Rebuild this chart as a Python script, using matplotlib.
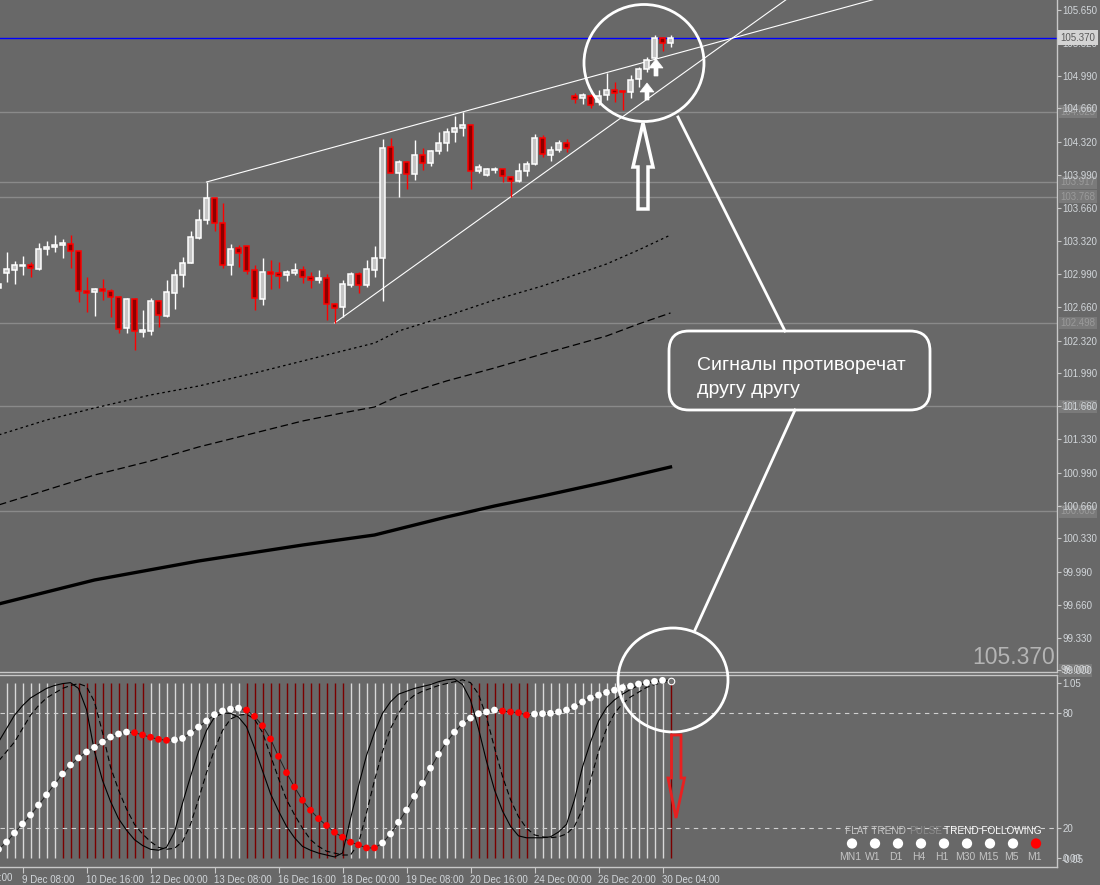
import numpy as np
import matplotlib
matplotlib.use('Agg')
import matplotlib.pyplot as plt
from matplotlib.patches import Ellipse, FancyBboxPatch, Polygon
import matplotlib.transforms as mtransforms

plt.rcParams['font.family'] = ['Liberation Sans', 'DejaVu Sans']

BG = '#686868'
AXIS_COL = '#c8c8c8'
LABEL_COL = '#d2d6da'

# ---- price data (H4 bars) ----
opens = [102.850, 103.001, 103.032, 103.072, 103.082, 103.042, 103.243, 103.263, 103.283, 103.294,
         103.223, 102.820, 102.810, 102.840, 102.820, 102.760, 102.448, 102.740, 102.407, 102.417,
         102.720, 102.569, 102.800, 102.981, 103.102, 103.354, 103.535, 103.757, 103.505, 103.082,
         103.253, 103.273, 103.032, 102.740, 103.012, 103.001, 102.981, 103.001, 103.032, 102.961,
         102.931, 102.951, 102.689, 102.659, 102.881, 102.991, 102.881, 103.032, 103.153, 104.270,
         104.009, 104.119, 103.998, 104.190, 104.109, 104.230, 104.311, 104.421, 104.462, 104.492,
         104.029, 103.988, 104.039, 104.049, 103.968, 103.928, 104.029, 104.099, 104.361, 104.190,
         104.240, 104.311, 104.784, 104.764, 104.784, 104.724, 104.794, 104.844, 104.834, 104.824,
         104.955, 105.056, 105.167, 105.368, 105.318]
highs = [102.921, 103.213, 103.122, 103.173, 103.112, 103.304, 103.324, 103.384, 103.344, 103.384,
         103.223, 102.961, 102.850, 102.941, 102.840, 102.770, 102.750, 102.750, 102.629, 102.750,
         102.730, 102.931, 103.042, 103.163, 103.424, 103.646, 103.918, 103.757, 103.706, 103.294,
         103.283, 103.273, 103.082, 103.153, 103.132, 103.112, 103.032, 103.102, 103.072, 103.012,
         103.032, 102.991, 102.699, 102.931, 103.012, 103.012, 103.132, 103.273, 104.351, 104.361,
         104.139, 104.129, 104.341, 104.260, 104.240, 104.421, 104.462, 104.583, 104.623, 104.492,
         104.099, 104.059, 104.069, 104.049, 103.978, 104.109, 104.129, 104.401, 104.391, 104.280,
         104.341, 104.351, 104.814, 104.814, 104.804, 104.844, 105.016, 104.925, 104.834, 104.995,
         105.076, 105.177, 105.398, 105.378, 105.398]
lows = [102.820, 102.911, 102.891, 102.981, 102.961, 103.032, 103.183, 103.213, 103.153, 103.052,
        102.709, 102.609, 102.569, 102.730, 102.559, 102.397, 102.397, 102.226, 102.357, 102.377,
        102.458, 102.559, 102.639, 102.860, 103.102, 103.344, 103.495, 103.424, 103.052, 102.981,
        103.062, 102.991, 102.629, 102.679, 102.840, 102.850, 102.921, 102.981, 102.901, 102.850,
        102.901, 102.528, 102.498, 102.559, 102.860, 102.800, 102.860, 102.961, 102.720, 104.009,
        103.767, 103.847, 103.938, 104.039, 104.079, 104.200, 104.230, 104.321, 104.381, 103.847,
        104.009, 103.978, 104.009, 103.918, 103.767, 103.918, 103.978, 104.089, 104.170, 104.129,
        104.220, 104.220, 104.713, 104.703, 104.663, 104.693, 104.744, 104.724, 104.643, 104.764,
        104.875, 105.026, 105.157, 105.237, 105.277]
closes = [102.891, 103.042, 103.082, 103.082, 103.052, 103.243, 103.263, 103.283, 103.304, 103.223,
          102.820, 102.800, 102.840, 102.820, 102.760, 102.438, 102.740, 102.417, 102.428, 102.720,
          102.579, 102.810, 102.981, 103.102, 103.364, 103.535, 103.757, 103.505, 103.082, 103.243,
          103.203, 103.022, 102.750, 103.012, 102.991, 102.971, 103.012, 103.032, 102.961, 102.931,
          102.951, 102.689, 102.649, 102.891, 102.991, 102.881, 103.042, 103.153, 104.260, 104.009,
          104.119, 103.998, 104.190, 104.109, 104.230, 104.311, 104.421, 104.462, 104.492, 104.029,
          104.069, 104.049, 104.049, 103.978, 103.928, 104.029, 104.099, 104.361, 104.200, 104.240,
          104.311, 104.260, 104.754, 104.794, 104.693, 104.784, 104.844, 104.814, 104.824, 104.945,
          105.056, 105.146, 105.368, 105.318, 105.370]

# moving averages, sampled at bar indices
ma_bars_a = [0, 6, 12, 19, 25, 32, 38, 43, 47, 50, 56, 62, 68, 72, 76, 80, 84]
ma_dotted = [101.370, 101.521, 101.642, 101.773, 101.863, 101.994, 102.115, 102.216, 102.296,
             102.417, 102.568, 102.730, 102.871, 102.981, 103.092, 103.233, 103.384]
ma_dashed = [100.665, 100.816, 100.967, 101.108, 101.249, 101.390, 101.511, 101.592, 101.652,
             101.763, 101.914, 102.045, 102.186, 102.276, 102.367, 102.488, 102.599]
ma_bars_b = [0, 12, 25, 38, 47, 56, 62, 68, 76, 84]
ma_slow = [99.668, 99.910, 100.101, 100.262, 100.363, 100.544, 100.655, 100.756, 100.897, 101.048]

levels = [104.625, 103.917, 103.768, 102.498, 101.660, 100.603]
last_price = 105.370
trend_upper = [(26, 103.918), (58, 104.623)]
trend_lower = [(42, 102.498), (64, 103.767)]

price_ticks = [105.650, 105.320, 104.990, 104.660, 104.320, 103.990, 103.660, 103.320, 102.990,
               102.660, 102.320, 101.990, 101.660, 101.330, 100.990, 100.660, 100.330, 99.990,
               99.660, 99.330, 99.000]

# ---- oscillator data ----
stoch_main = [65, 72, 79, 84, 88, 90.5, 93, 94.5, 95.5, 96, 93, 82, 60, 45, 34, 25, 19, 14, 11, 9,
              8.5, 10, 18, 33, 47, 60, 71, 78, 80, 80, 78, 73, 62, 50, 38, 29, 21, 15, 10.5, 8.5,
              7, 6, 5, 7, 25, 42, 58, 70, 80, 86, 90, 91.5, 93, 94, 95, 96.5, 97.5, 97.9, 95, 87,
              72, 55, 40, 29, 21, 16, 15, 15, 15, 15.5, 18, 22, 35, 52, 65, 76, 83, 87, 90, 92.5,
              94.5, 95.7, 96.5, 97, 97.4]
stoch_signal = [55, 60, 65, 72, 79, 84, 88, 90.5, 93, 94.5, 95.5, 94, 86, 70, 52, 40, 30, 22, 17, 13,
                10, 9, 9.5, 13, 22, 35, 49, 61, 71, 77, 79, 79.5, 77, 70, 58, 46, 35, 27, 20, 14,
                10.5, 8, 7, 6, 6, 12, 28, 45, 60, 72, 80, 86, 89.5, 91.5, 93, 94.5, 95.5, 96.5, 97.5,
                96, 90, 78, 62, 47, 35, 26, 20, 16.5, 15.5, 15, 15.5, 17, 21, 30, 45, 60, 72, 80, 85,
                88.5, 91, 93.5, 95, 96, 96.8]
dots = [9.0, 12.8, 17.5, 22.2, 26.9, 32.1, 37.4, 42.9, 48.3, 53.0, 56.7, 59.8, 62.2, 65.0, 67.6,
        69.2, 70.2, 69.9, 68.7, 67.5, 66.4, 65.9, 66.1, 66.9, 69.7, 72.8, 76.0, 79.3, 81.2, 82.2,
        82.7, 81.7, 78.4, 73.5, 66.6, 57.5, 49.0, 41.5, 34.6, 29.4, 25.0, 21.4, 17.9, 15.3, 12.7,
        11.3, 9.7, 9.7, 12.3, 17.0, 23.1, 29.5, 36.7, 43.5, 51.4, 58.6, 65.0, 70.2, 74.6, 77.5,
        79.8, 80.7, 81.7, 81.2, 80.7, 80.3, 79.1, 79.6, 79.8, 80.0, 80.7, 81.7, 83.5, 85.9, 88.0,
        89.5, 90.9, 92.1, 93.4, 94.2, 95.3, 96.0, 96.7, 97.2, 97.0]
red_dot_ranges = [(17, 21), (31, 47), (63, 66)]
red_hist_ranges = [(8, 18), (31, 43), (59, 66), (84, 84)]

time_tick_bars = [-5, 3, 11, 19, 27, 35, 43, 51, 59, 67, 75, 83]
time_labels = ['6 Dec 00:00', '9 Dec 08:00', '10 Dec 16:00', '12 Dec 00:00', '13 Dec 08:00',
               '16 Dec 16:00', '18 Dec 00:00', '19 Dec 08:00', '20 Dec 16:00', '24 Dec 00:00',
               '26 Dec 20:00', '30 Dec 04:00']

tf_labels = ['MN1', 'W1', 'D1', 'H4', 'H1', 'M30', 'M15', 'M5', 'M1']
tf_colors = ['white'] * 8 + ['#ff0000']


def in_ranges(i, ranges):
    return any(a <= i <= b for a, b in ranges)


W, H = 1100, 885
fig = plt.figure(figsize=(W / 100, H / 100), dpi=100)
fig.patch.set_facecolor(BG)

XLIM = (1.5 / 8, (1057 + 1.5) / 8)
ax = fig.add_axes([0, (H - 672) / H, 1057 / W, 672 / H])
ax2 = fig.add_axes([0, 18.5 / H, 1057 / W, 191.5 / H])

for a in (ax, ax2):
    a.set_facecolor(BG)
    a.set_xlim(*XLIM)
    for s in a.spines.values():
        s.set_color(AXIS_COL)
        s.set_linewidth(1)
    a.spines['left'].set_visible(False)

ax.set_ylim(105.65 - 662 / 99.3, 105.65 + 10 / 99.3)
ax.spines['top'].set_visible(False)
ax.set_xticks([])

# ---- top panel ----
o = np.array(opens); h = np.array(highs); l = np.array(lows); c = np.array(closes)
x = np.arange(len(o))
up = c >= o
for lv in levels:
    ax.axhline(lv, color='#8a8a8a', lw=1, zorder=1)
ax.axhline(last_price, color='#0000ff', lw=1, zorder=1)

ax.plot(ma_bars_a, ma_dotted, color='black', lw=0.9, ls=(0, (2, 2.5)), zorder=2)
ax.plot(ma_bars_a, ma_dashed, color='black', lw=0.9, ls=(0, (6, 3)), zorder=2)
ax.plot(ma_bars_b, ma_slow, color='black', lw=2.4, zorder=2)

for (b0, p0), (b1, p1) in (trend_upper, trend_lower):
    slope = (p1 - p0) / (b1 - b0)
    ax.plot([b0, 130], [p0, p0 + slope * (130 - b0)], color='white', lw=0.8, zorder=2)

ax.vlines(x[up], l[up], h[up], color='white', lw=1, zorder=3)
ax.vlines(x[~up], l[~up], h[~up], color='#ff0000', lw=1, zorder=3)
body_lo = np.minimum(o, c)
body_h = np.maximum(np.abs(c - o), 0.014)
ax.bar(x[up], body_h[up], 0.52, body_lo[up], color='#c4c4c4', edgecolor='white', lw=1.1, zorder=4)
ax.bar(x[~up], body_h[~up], 0.52, body_lo[~up], color='#8b0000', edgecolor='#ff0000', lw=1.1, zorder=4)

ax.yaxis.tick_right()
ax.set_yticks(price_ticks)
ax.set_yticklabels([f'{t:.3f}' for t in price_ticks])
ax.tick_params(axis='y', colors=AXIS_COL, labelcolor=LABEL_COL, length=3, pad=1, labelsize=7)
ax.yaxis.set_zorder(3)

ytr = mtransforms.blended_transform_factory(ax.transAxes, ax.transData)
for lv in levels:
    ax.text(1.0035, lv, f'{lv:.3f}', transform=ytr, va='center', ha='left', fontsize=7,
            color='#9a9a9a', clip_on=False, zorder=2,
            bbox=dict(boxstyle='square,pad=0.15', fc='#7a7a7a', ec='none'))
ax.text(1.0035, 99.0, '99.000', transform=ytr, va='center', ha='left', fontsize=7,
        color='#d0d0d0', clip_on=False, zorder=2,
        bbox=dict(boxstyle='square,pad=0.15', fc='#7a7a7a', ec='none'))
ax.text(1.0035, last_price, f'{last_price:.3f}', transform=ytr, va='center', ha='left', fontsize=7,
        color='#5a5a5a', clip_on=False, zorder=6,
        bbox=dict(boxstyle='square,pad=0.25', fc='#d4d4d4', ec='none'))
ax.text(0.998, 0.005, f'{last_price:.3f}', transform=ax.transAxes, ha='right', va='bottom',
        fontsize=16.5, color='#b4b4b4', zorder=6)

# ---- bottom panel ----
ax2.set_ylim(0, 100)
hist_cols = ['#7a0000' if in_ranges(i, red_hist_ranges) else '#d8d8d8' for i in x]
ax2.vlines(x, 4.35, 95.65, colors=hist_cols, lw=1.0, zorder=1)
for lv in (80, 20):
    ax2.axhline(lv, color='#d0d0d0', lw=0.8, ls=(0, (4, 4)), zorder=2)
ax2.plot(x, stoch_signal, color='black', lw=0.8, ls=(0, (5, 3)), zorder=3)
ax2.plot(x, stoch_main, color='black', lw=0.8, zorder=3)
ax2.plot(x, dots, color='#202020', lw=0.7, zorder=4)
dot_cols = ['#ff0000' if in_ranges(i, red_dot_ranges) else 'white' for i in x[:-1]]
ax2.scatter(x[:-1], dots[:-1], s=24, c=dot_cols, edgecolors='none', zorder=5)
ax2.scatter([x[-1]], [dots[-1]], s=22, facecolors='#707070', edgecolors='white', lw=0.8, zorder=5)

ax2.yaxis.tick_right()
ax2.set_yticks([95.8, 80, 20, 4.3])
ax2.set_yticklabels(['1.05', '80', '20', '0.00'])
ax2.tick_params(axis='y', colors=AXIS_COL, labelcolor=LABEL_COL, length=3, pad=1, labelsize=7)
ax2.text(1.004, 3.6, '-0.05', transform=mtransforms.blended_transform_factory(ax2.transAxes, ax2.transData),
         fontsize=7, color=LABEL_COL, va='center', ha='left', clip_on=False)

ax2.set_xticks(time_tick_bars[1:])
ax2.set_xticklabels(time_labels[1:])
ax2.tick_params(axis='x', colors=AXIS_COL, labelcolor=LABEL_COL, length=4, pad=2, labelsize=7)
for lab in ax2.get_xticklabels():
    lab.set_ha('left')
xtr = mtransforms.blended_transform_factory(ax2.transData, ax2.transAxes)
ax2.text(time_tick_bars[0] + 0.25, -0.032, time_labels[0], transform=xtr, fontsize=7,
         color=LABEL_COL, ha='left', va='top', clip_on=False)

# ---- overlay: annotations and legend (pixel coordinates) ----
ov = fig.add_axes([0, 0, 1, 1])
ov.set_xlim(0, W)
ov.set_ylim(H, 0)
ov.axis('off')
ov.patch.set_alpha(0)

ov.add_patch(Ellipse((644, 63), 120, 117, fill=False, ec='white', lw=2))
ov.add_patch(Ellipse((673, 680), 110, 104, fill=False, ec='white', lw=2))
ov.plot([678, 785], [117, 331], color='white', lw=2)
ov.plot([795, 695], [410, 630], color='white', lw=2)
ov.add_patch(FancyBboxPatch((669, 331), 261, 79, boxstyle='round,pad=0,rounding_size=20',
                            fc=BG, ec='white', lw=2))
ov.text(697, 365, 'Сигналы противоречат', color='white', fontsize=14, va='center', ha='left')
ov.text(697, 389, 'другу другу', color='white', fontsize=14, va='center', ha='left')

ov.add_patch(Polygon([(643, 123), (653, 167), (648, 167), (648, 209), (638, 209), (638, 167), (633, 167)],
                     closed=True, fill=False, ec='white', lw=2.5, joinstyle='miter'))
ov.add_patch(Polygon([(671.5, 735), (681, 735), (681, 778), (684.5, 778), (676, 818), (668, 778), (671.5, 778)],
                     closed=True, fill=False, ec='#e82020', lw=2, joinstyle='miter'))
for tx, ty in ((656, 59), (647, 83)):
    ov.add_patch(Polygon([(tx, ty), (tx + 7, ty + 9), (tx + 2, ty + 9), (tx + 2, ty + 17),
                          (tx - 2, ty + 17), (tx - 2, ty + 9), (tx - 7, ty + 9)],
                         closed=True, fc='white', ec='white', lw=0.5))

ov.text(845, 831, 'FLAT TREND', color='#c4c4c4', fontsize=7.2, va='center', ha='left')
ov.text(909, 831, 'PULSE', color='#8c8c8c', fontsize=7.2, va='center', ha='left')
ov.text(944, 831, 'TREND FOLLOWING', color='white', fontsize=7.2, va='center', ha='left')
dot_x = [852, 875, 898, 921, 944, 967, 990, 1013, 1036]
ov.scatter(dot_x, [843.5] * 9, s=55, c=tf_colors, edgecolors='none')
for dx, lab in zip(dot_x, tf_labels):
    ov.text(dx - 2, 857, lab, color='#c4c4c4', fontsize=7.5, va='center', ha='center')

fig.savefig('out.png', dpi=100, facecolor=BG)
